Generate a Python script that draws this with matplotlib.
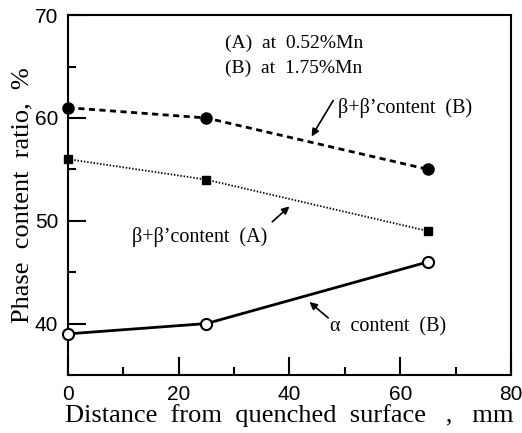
import matplotlib
matplotlib.use("Agg")
import matplotlib.pyplot as plt
from matplotlib.ticker import MultipleLocator

x = [0, 25, 65]
beta_B = [61, 60, 55]
beta_A = [56, 54, 49]
alpha_B = [39, 40, 46]

xticks = [0, 20, 40, 60, 80]
yticks = [40, 50, 60, 70]

serif = ["Liberation Serif", "DejaVu Serif"]
sans = ["Liberation Sans", "DejaVu Sans"]

fig = plt.figure(figsize=(5.22, 4.33), dpi=100)
ax = fig.add_axes([0.130, 0.134, 0.849, 0.831])

ax.plot(x, beta_B, color="black", lw=2.0, ls=(0, (2.2, 1.6)), marker="o", ms=8,
        mfc="black", mec="black", clip_on=False, zorder=3)
ax.plot(x, beta_A, color="black", lw=1.3, ls=(0, (0.8, 1.0)), marker="s", ms=6,
        mfc="black", mec="black", clip_on=False, zorder=3)
ax.plot(x, alpha_B, color="black", lw=2.0, ls="-", marker="o", ms=8,
        mfc="white", mec="black", mew=1.5, clip_on=False, zorder=3)

ax.set_xlim(0, 80)
ax.set_ylim(35, 70)
ax.set_xticks(xticks)
ax.set_yticks(yticks)
ax.xaxis.set_minor_locator(MultipleLocator(10))
ax.yaxis.set_minor_locator(MultipleLocator(5))
ax.tick_params(which="major", direction="in", length=13, width=1.5, labelsize=15, pad=7)
ax.tick_params(which="minor", direction="in", length=6, width=1.5)
for lab in ax.get_xticklabels() + ax.get_yticklabels():
    lab.set_fontfamily(sans)
for s in ax.spines.values():
    s.set_linewidth(1.5)

ax.set_xlabel("Distance  from  quenched  surface   ,   mm", family=serif, fontsize=19, labelpad=0)
ax.set_ylabel("Phase  content  ratio,  %", family=serif, fontsize=19, labelpad=1)

ax.text(28.4, 67.3, "(A)  at  0.52%Mn", family=serif, fontsize=14, va="center")
ax.text(28.4, 64.85, "(B)  at  1.75%Mn", family=serif, fontsize=14, va="center")

def arrow(head, tail):
    ax.annotate("", xy=head, xytext=tail,
                arrowprops=dict(arrowstyle="-|>", color="black", lw=1.2,
                                mutation_scale=11, shrinkA=0, shrinkB=0))

ax.text(48.8, 61.0, "β+β’content  (B)", family=serif, fontsize=14.5, va="center", ha="left")
arrow((44.0, 58.2), (47.9, 61.7))
ax.text(11.6, 48.4, "β+β’content  (A)", family=serif, fontsize=14.5, va="center", ha="left")
arrow((40.0, 51.4), (36.9, 49.9))
ax.text(47.4, 39.7, "α  content  (B)", family=serif, fontsize=14.5, va="center", ha="left")
arrow((43.6, 42.1), (47.0, 40.55))

fig.savefig("out.png", dpi=100)
